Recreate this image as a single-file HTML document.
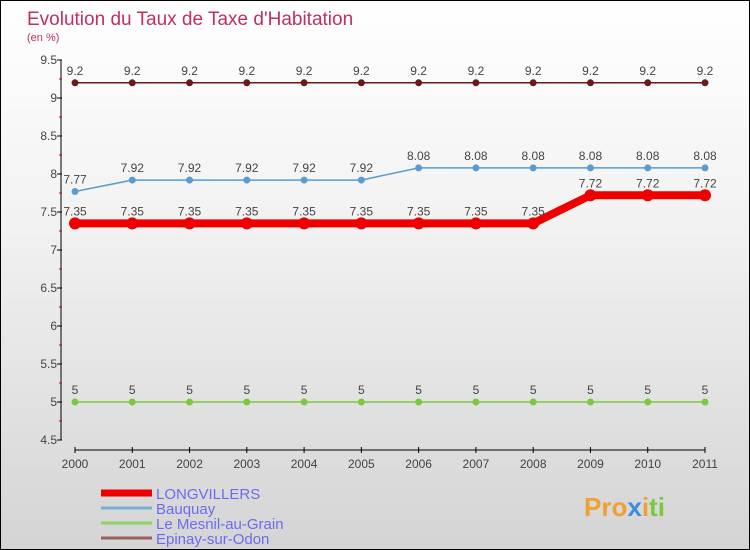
<!DOCTYPE html>
<html><head><meta charset="utf-8"><style>
body{margin:0}
#c{width:748px;height:548px;border:1px solid #000;background:linear-gradient(#ffffff 0%,#f2f2f2 40%,#d4d4d4 100%);position:relative;font-family:"Liberation Sans",sans-serif}
</style></head><body>
<div id="c">
<svg id="s" width="748" height="548" style="position:absolute;left:0;top:0">
<text x="26" y="24" font-size="19" fill="#c0305e">Evolution du Taux de Taxe d'Habitation</text>
<text x="26" y="40" font-size="11" fill="#c0305e">(en %)</text>
<g id="g"></g>
<g font-size="26" font-weight="bold">
<text x="583" y="515"><tspan fill="#f0a030">Pro</tspan><tspan fill="#3a8ee0">x</tspan><tspan fill="#f0a030">i</tspan><tspan fill="#7cc940">ti</tspan></text>
</g>
</svg>
</div>
<script>
const years=["2000","2001","2002","2003","2004","2005","2006","2007","2008","2009","2010","2011"];
const longvillers=[7.35,7.35,7.35,7.35,7.35,7.35,7.35,7.35,7.35,7.72,7.72,7.72];
const bauquay=[7.77,7.92,7.92,7.92,7.92,7.92,8.08,8.08,8.08,8.08,8.08,8.08];
const mesnil=[5,5,5,5,5,5,5,5,5,5,5,5];
const epinay=[9.2,9.2,9.2,9.2,9.2,9.2,9.2,9.2,9.2,9.2,9.2,9.2];
const yTicks=[4.5,5,5.5,6,6.5,7,7.5,8,8.5,9,9.5];
const seriesNames=["LONGVILLERS","Bauquay","Le Mesnil-au-Grain","Epinay-sur-Odon"];
const NS="http://www.w3.org/2000/svg";
const g=document.getElementById('g');
const X=i=>74+i*(630/(years.length-1));
const Y=v=>59+(9.5-v)*76;
function el(t,a,p){const e=document.createElementNS(NS,t);for(const k in a)e.setAttribute(k,a[k]);(p||g).appendChild(e);return e;}
let ax=el('line',{x1:60,y1:59,x2:60,y2:439,stroke:'#000'});


let bx=el('line',{x1:74,y1:449,x2:704,y2:449,stroke:'#000'});


yTicks.forEach((v,i)=>{
 el('line',{x1:56,y1:Y(v),x2:61,y2:Y(v),stroke:'#000'});
 if(i<yTicks.length-1) el('line',{x1:58,y1:Y(v+0.25),x2:61,y2:Y(v+0.25),stroke:'#d00'});
 const t=el('text',{x:56,y:Y(v)+4,'font-size':12,fill:'#444','text-anchor':'end'});t.textContent=v;
 
 
});
years.forEach((y,i)=>{
 el('line',{x1:X(i),y1:446,x2:X(i),y2:452,stroke:'#000'});
 const t=el('text',{x:X(i),y:467,'font-size':12,fill:'#444','text-anchor':'middle'});t.textContent=y;
 
 
});
function series(data,color,lw,r,name){
 const p=el('polyline',{points:data.map((v,i)=>X(i)+','+Y(v)).join(' '),fill:'none',stroke:color,'stroke-width':lw,'stroke-linejoin':'round'});
 
 
 data.forEach((v,i)=>{
  const c=el('circle',{cx:X(i),cy:Y(v),r:r,fill:color});
  
  
  const t=el('text',{x:X(i),y:Y(v)-8,'font-size':12,fill:'#444','text-anchor':'middle'});t.textContent=v;
  
  
 });
}
series(epinay,'#6b1a1a',1.5,3.5,'epinay');
series(mesnil,'#7cc940',1.5,3.5,'mesnil');
series(bauquay,'#5a9bd0',1.5,3.5,'bauquay');
series(longvillers,'#ee0000',8,6,'longvillers');
const lc=['#ee0000','#79aed4','#8fd468','#9a6060'],lw=[7,3,3,3],ly=[492,507,522,537];
seriesNames.forEach((n,i)=>{
 const l=el('line',{x1:100,y1:ly[i],x2:151,y2:ly[i],stroke:lc[i],'stroke-width':lw[i]});
 
 
 const t=el('text',{x:155,y:ly[i]+6,'font-size':15,fill:'#6b6bf0'});t.textContent=n;
 
 
});
</script>
</body></html>
